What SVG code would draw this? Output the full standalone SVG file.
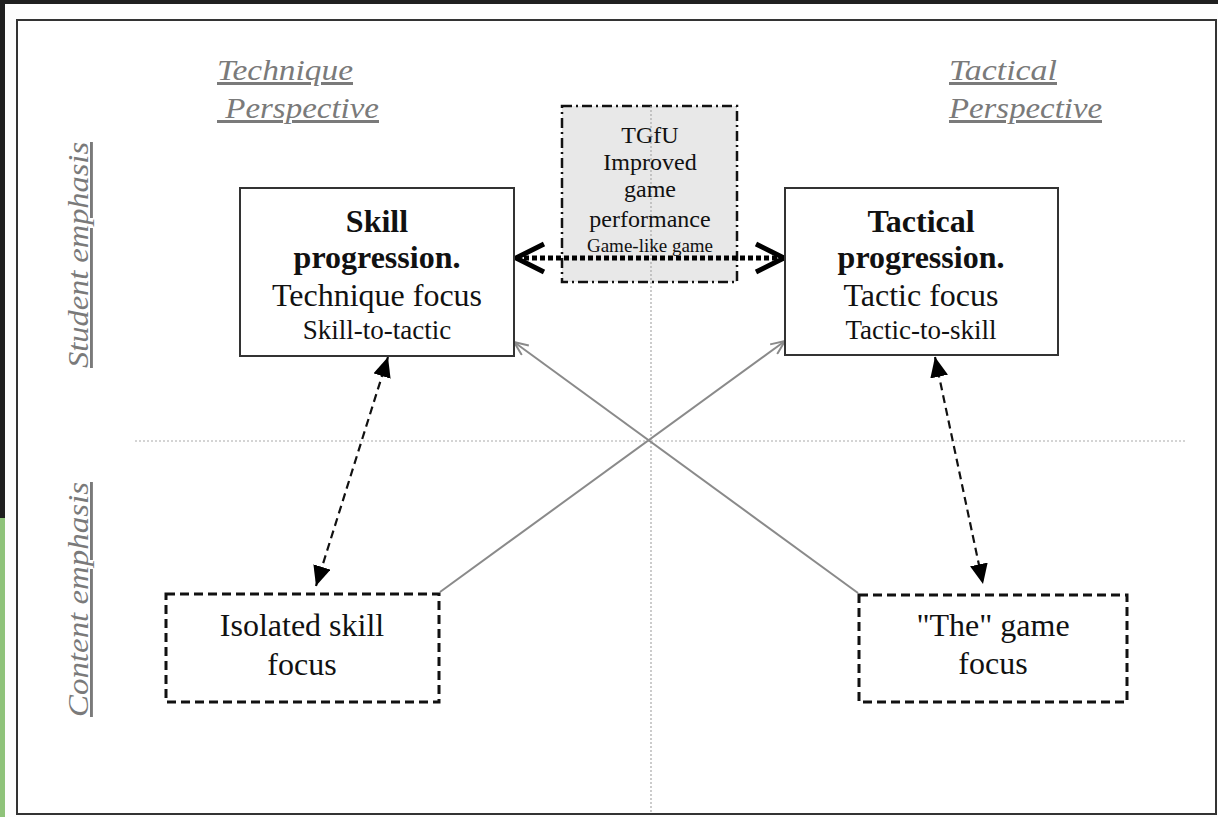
<svg xmlns="http://www.w3.org/2000/svg" width="1218" height="817" viewBox="0 0 1218 817">
  <defs>
    <style>
      .lbl { font-family: "Liberation Serif", "Times New Roman", serif; font-style: italic; fill: #7a7a7a; font-size: 30px; text-decoration: underline; }
      .vlbl { font-family: "Liberation Serif", "Times New Roman", serif; font-style: italic; fill: #7a7a7a; font-size: 29px; text-decoration: underline; }
      .t { font-family: "Liberation Serif", "Times New Roman", serif; fill: #111; text-anchor: middle; }
      .b { font-weight: bold; font-size: 32px; }
      .m { font-size: 32px; }
      .s { font-size: 27px; }
      .g { font-size: 24px; }
      .gs { font-size: 19px; }
      .box { fill: #fff; stroke: #333; stroke-width: 2; }
      .dbox { fill: #fff; stroke: #111; stroke-width: 3; stroke-dasharray: 9 5; }
      .tgfu { fill: #e8e8e8; stroke: #111; stroke-width: 2.5; stroke-dasharray: 10 4 2 4; }
      .grid { stroke: #aaa; stroke-width: 1.2; stroke-dasharray: 2 2; fill: none; }
      .darr { stroke: #111; stroke-width: 2.2; stroke-dasharray: 8 5; fill: none; }
      .garr { stroke: #8a8a8a; stroke-width: 2; fill: none; }
      .thick { stroke: #000; stroke-width: 5; stroke-dasharray: 5 3; fill: none; }
    </style>
    <marker id="tri" viewBox="0 0 20 18" markerUnits="userSpaceOnUse" markerWidth="20" markerHeight="18" refX="20" refY="9" orient="auto-start-reverse">
      <path d="M0,0 L20,9 L0,18 z" fill="#000"/>
    </marker>
    <marker id="open" viewBox="0 0 16 14" markerUnits="userSpaceOnUse" markerWidth="16" markerHeight="14" refX="15" refY="7" orient="auto">
      <path d="M1,1 L15,7 L1,13" fill="none" stroke="#8a8a8a" stroke-width="2"/>
    </marker>
    <marker id="chev" viewBox="-2 -2 36 36" markerUnits="userSpaceOnUse" markerWidth="36" markerHeight="36" refX="30" refY="16" orient="auto-start-reverse">
      <path d="M2,2 L30,16 L2,30" fill="none" stroke="#000" stroke-width="5"/>
    </marker>
  </defs>

  <!-- background -->
  <rect x="0" y="0" width="1218" height="817" fill="#1f1f1f"/>
  <rect x="0" y="518" width="6" height="299" fill="#8fc37a"/>
  <rect x="5" y="4" width="1213" height="813" fill="#fdfdfd"/>
  <rect x="17" y="20" width="1199" height="794" fill="#ffffff" stroke="#333" stroke-width="2"/>

  <!-- grid axes -->
  <g id="axes">
    <line class="grid" x1="135" y1="441" x2="1185" y2="441"/>
    <line class="grid" x1="651" y1="106" x2="651" y2="813"/>
  </g>

  <!-- perspective labels -->
  <g id="labels">
    <text class="lbl" x="217" y="80" textLength="136" lengthAdjust="spacingAndGlyphs">Technique</text>
    <text class="lbl" x="217" y="118" textLength="162" lengthAdjust="spacingAndGlyphs" xml:space="preserve"> Perspective</text>
    <text class="lbl" x="949" y="80" textLength="108" lengthAdjust="spacingAndGlyphs">Tactical</text>
    <text class="lbl" x="949" y="118" textLength="153" lengthAdjust="spacingAndGlyphs">Perspective</text>
    <text class="vlbl" transform="translate(88,368) rotate(-90)" textLength="226" lengthAdjust="spacingAndGlyphs">Student emphasis</text>
    <text class="vlbl" transform="translate(88,717) rotate(-90)" textLength="235" lengthAdjust="spacingAndGlyphs">Content emphasis</text>
  </g>

  <!-- TGfU -->
  <g id="tgfu">
    <rect class="tgfu" x="562" y="106" width="175" height="176"/>
    <line class="grid" x1="651" y1="106" x2="651" y2="282"/>
    <text class="t g" x="650" y="143">TGfU</text>
    <text class="t g" x="650" y="170">Improved</text>
    <text class="t g" x="650" y="197">game</text>
    <text class="t g" x="650" y="227">performance</text>
    <text class="t gs" x="650" y="252">Game-like game</text>
  </g>

  <!-- connectors -->
  <g id="connectors">
    <line class="thick" x1="516" y1="258" x2="784" y2="258" marker-start="url(#chev)" marker-end="url(#chev)"/>
    <line class="darr" x1="388" y1="357" x2="316" y2="586" marker-start="url(#tri)" marker-end="url(#tri)"/>
    <line class="darr" x1="935" y1="357" x2="983" y2="584" marker-start="url(#tri)" marker-end="url(#tri)"/>
    <line class="garr" x1="440" y1="592" x2="785" y2="341" marker-end="url(#open)"/>
    <line class="garr" x1="858" y1="593" x2="514" y2="342" marker-end="url(#open)"/>
  </g>

  <!-- Skill progression -->
  <g id="skill">
    <rect class="box" x="240" y="188" width="274" height="168"/>
    <text class="t b" x="377" y="232">Skill</text>
    <text class="t b" x="377" y="268">progression.</text>
    <text class="t m" x="377" y="306">Technique focus</text>
    <text class="t s" x="377" y="339">Skill-to-tactic</text>
  </g>

  <!-- Tactical progression -->
  <g id="tactical">
    <rect class="box" x="785" y="188" width="273" height="167"/>
    <text class="t b" x="921" y="232">Tactical</text>
    <text class="t b" x="921" y="268">progression.</text>
    <text class="t m" x="921" y="306">Tactic focus</text>
    <text class="t s" x="921" y="339">Tactic-to-skill</text>
  </g>

  <!-- Isolated skill focus -->
  <g id="isolated">
    <rect class="dbox" x="166" y="594" width="273" height="108"/>
    <text class="t m" x="302" y="636">Isolated skill</text>
    <text class="t m" x="302" y="675">focus</text>
  </g>

  <!-- The game focus -->
  <g id="thegame">
    <rect class="dbox" x="859" y="595" width="268" height="107"/>
    <text class="t m" x="993" y="636">"The" game</text>
    <text class="t m" x="993" y="674">focus</text>
  </g>
</svg>
